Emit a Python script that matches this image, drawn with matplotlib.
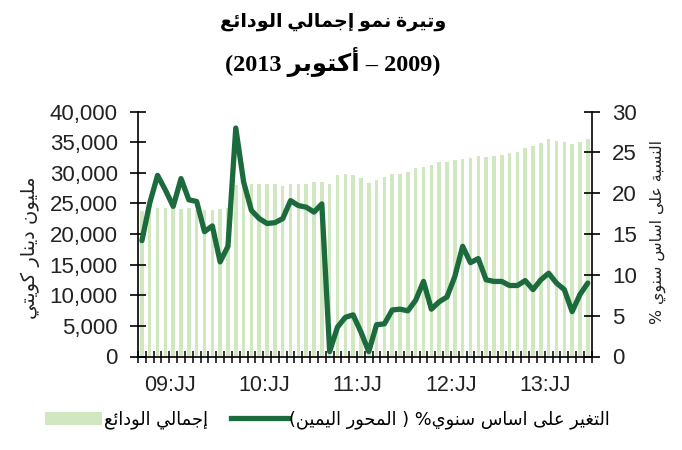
import re
import matplotlib
matplotlib.use('Agg')
import matplotlib.pyplot as plt
from matplotlib.patches import Patch
from matplotlib.lines import Line2D

# presentation forms: iso, fin, ini, med
FORMS = {
    'ا': (0xFE8D, 0xFE8E), 'أ': (0xFE83, 0xFE84), 'إ': (0xFE87, 0xFE88),
    'ب': (0xFE8F, 0xFE90, 0xFE91, 0xFE92), 'ة': (0xFE93, 0xFE94),
    'ت': (0xFE95, 0xFE96, 0xFE97, 0xFE98), 'ج': (0xFE9D, 0xFE9E, 0xFE9F, 0xFEA0),
    'ح': (0xFEA1, 0xFEA2, 0xFEA3, 0xFEA4), 'د': (0xFEA9, 0xFEAA),
    'ر': (0xFEAD, 0xFEAE), 'س': (0xFEB1, 0xFEB2, 0xFEB3, 0xFEB4),
    'ع': (0xFEC9, 0xFECA, 0xFECB, 0xFECC), 'غ': (0xFECD, 0xFECE, 0xFECF, 0xFED0),
    'ك': (0xFED9, 0xFEDA, 0xFEDB, 0xFEDC), 'ل': (0xFEDD, 0xFEDE, 0xFEDF, 0xFEE0),
    'م': (0xFEE1, 0xFEE2, 0xFEE3, 0xFEE4), 'ن': (0xFEE5, 0xFEE6, 0xFEE7, 0xFEE8),
    'و': (0xFEED, 0xFEEE), 'ى': (0xFEEF, 0xFEF0),
    'ي': (0xFEF1, 0xFEF2, 0xFEF3, 0xFEF4), 'ئ': (0xFE89, 0xFE8A, 0xFE8B, 0xFE8C),
}


def shape(s):
    out = []
    for k, c in enumerate(s):
        f = FORMS.get(c)
        if f is None:
            out.append(c)
            continue
        prev = s[k - 1] if k > 0 else ''
        nxt = s[k + 1] if k + 1 < len(s) else ''
        pj = prev in FORMS and len(FORMS[prev]) == 4
        nj = nxt in FORMS and len(f) == 4
        if pj and nj:
            g = f[3]
        elif pj:
            g = f[1]
        elif nj:
            g = f[2]
        else:
            g = f[0]
        out.append(chr(g))
    return ''.join(out)


def ar(s):
    # rtl paragraph -> visual order
    t = shape(s)[::-1].translate(str.maketrans('()', ')('))
    return re.sub(r'[0-9A-Za-z.,:]+', lambda m: m.group(0)[::-1], t)


# data, Jan 2009 - Oct 2013 (monthly)
deposits = [23700, 24100, 24200, 24200, 24200, 24100, 24200, 24000, 24000, 24000, 24100, 24300,
            28000, 28200, 28250, 28250, 28250, 28250, 27800, 28250, 28250, 28250, 28500, 28500,
            28250, 29600, 29900, 29600, 29100, 28400, 28850, 29300, 29800, 29800, 30100, 30750,
            31000, 31300, 31850, 31850, 32100, 32200, 32400, 32750, 32650, 32750, 32850, 33200,
            33450, 34000, 34400, 34950, 35500, 35250, 35100, 34700, 35100, 35500]
growth = [14.2, 18.8, 22.2, 20.4, 18.4, 21.8, 19.2, 19.0, 15.3, 16.0, 11.6, 13.5,
          28.0, 21.4, 17.9, 16.9, 16.3, 16.4, 16.9, 19.1, 18.5, 18.3, 17.7, 18.7,
          0.6, 3.6, 4.8, 5.1, 3.0, 0.6, 3.9, 4.0, 5.7, 5.8, 5.6, 6.9,
          9.2, 5.8, 6.7, 7.3, 9.8, 13.5, 11.5, 12.0, 9.4, 9.2, 9.2, 8.7,
          8.7, 9.3, 8.2, 9.4, 10.2, 9.0, 8.2, 5.5, 7.6, 9.0]
year_labels = ['09:JJ', '10:JJ', '11:JJ', '12:JJ', '13:JJ']
year_pos = [3.6, 15.6, 27.6, 39.6, 51.6]

title1 = 'وتيرة نمو إجمالي الودائع'
title2 = '(2009 – أكتوبر 2013)'
ylabel_left = 'مليون دينار كويتي'
ylabel_right = 'النسبة على اساس سنوي %'
leg_bars = 'إجمالي الودائع'
leg_line = 'التغير على اساس سنوي% ( المحور اليمين)'

BAR_C = '#d0e7c2'
LINE_C = '#1b6b3d'
LAT = ['Liberation Sans', 'DejaVu Sans']
ARF = ['DejaVu Sans']
TTL = ['Liberation Serif', 'DejaVu Sans']

fig = plt.figure(figsize=(6.82, 4.5), dpi=100)
ax = fig.add_axes([138 / 682, 1 - 356.5 / 450, 453.7 / 682, 244.8 / 450])
x = list(range(len(deposits)))
ax.bar(x, deposits, width=0.45, color=BAR_C, zorder=1)
ax.set_xlim(-0.5, len(deposits) - 0.5)
ax.set_ylim(0, 40000)
ax.set_yticks(range(0, 40001, 5000))
ax.set_yticklabels(['{:,}'.format(v) for v in range(0, 40001, 5000)], family=LAT, fontsize=16, color='#222222')
ax.tick_params(axis='y', direction='inout', length=12, width=1.2, pad=8.5)
ax.set_xticks(year_pos)
ax.set_xticklabels(year_labels, family=LAT, fontsize=15.5, color='#222222')
ax.set_xticks([i - 0.5 for i in range(len(deposits) + 1)], minor=True)
ax.tick_params(axis='x', which='major', length=0, pad=13)
ax.tick_params(axis='x', which='minor', direction='inout', length=9, width=1.1)
for s in ['top', 'right']:
    ax.spines[s].set_visible(False)
ax.spines['left'].set_linewidth(1.2)
ax.spines['bottom'].set_linewidth(1.2)

ax2 = ax.twinx()
ax2.plot(x, growth, color=LINE_C, lw=3.8, solid_joinstyle='round', solid_capstyle='round', zorder=3)
ax2.set_ylim(0, 30)
ax2.set_yticks(range(0, 31, 5))
ax2.set_yticklabels([str(v) for v in range(0, 31, 5)], family=LAT, fontsize=16, color='#222222')
ax2.tick_params(axis='y', direction='inout', length=12, width=1.2, pad=8.5)
for s in ['top', 'left', 'bottom']:
    ax2.spines[s].set_visible(False)
ax2.spines['right'].set_linewidth(1.2)

fig.text(30 / 682, 1 - 248 / 450, ar(ylabel_left), rotation=90, family=ARF, fontsize=14,
         ha='center', va='center', color='#222222')
fig.text(658 / 682, 1 - 232 / 450, ar(ylabel_right), rotation=90, family=ARF, fontsize=11.3,
         ha='center', va='center', color='#222222')

fig.text(333 / 682, 1 - 22 / 450, ar(title1), family=TTL,
         fontweight='bold', fontsize=13.8, ha='center', va='center')
fig.text(333 / 682, 1 - 62 / 450, ar(title2), family=TTL, fontweight='bold', fontsize=17.5,
         ha='center', va='center')

handles = [Patch(facecolor=BAR_C, edgecolor='none'),
           Line2D([0], [0], color=LINE_C, lw=3.8)]
fig.legend(handles, [ar(leg_bars), ar(leg_line)], loc='center left',
           bbox_to_anchor=(45 / 682, 1 - 420 / 450), ncol=2, frameon=False,
           borderpad=0, borderaxespad=0,
           prop={'family': ARF, 'size': 12.8}, handlelength=3.2, handleheight=0.7,
           handletextpad=0.1, columnspacing=1.3)

fig.savefig('out.png', dpi=100)
